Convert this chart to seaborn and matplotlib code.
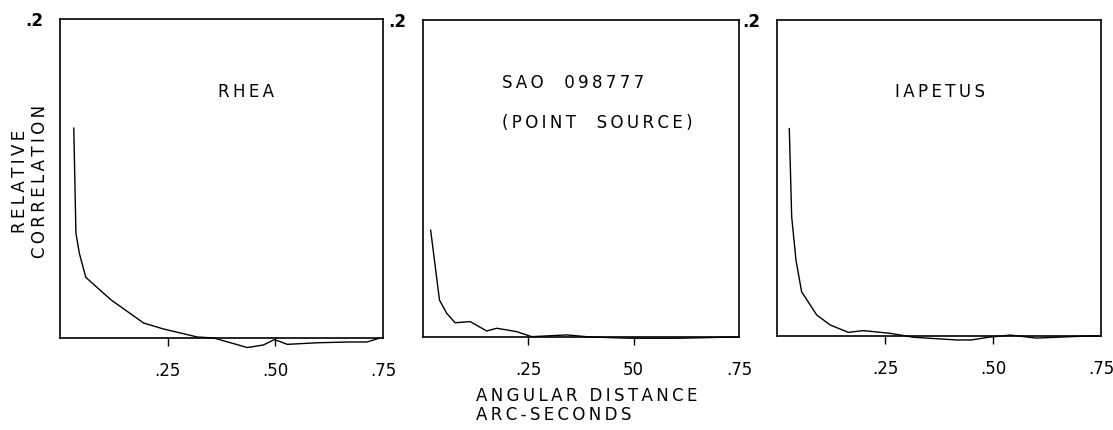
import numpy as np
import pandas as pd
import matplotlib
matplotlib.use("Agg")
import matplotlib.pyplot as plt
import seaborn as sns

# angular distance (arc-seconds) vs relative correlation
rhea_x = [0.032, 0.037, 0.045, 0.060, 0.118, 0.194, 0.241, 0.319, 0.357,
          0.435, 0.472, 0.498, 0.528, 0.597, 0.674, 0.713, 0.743]
rhea_y = [0.1317, 0.0658, 0.053, 0.038, 0.024, 0.0094, 0.0056, 0.0006, 0.0,
          -0.006, -0.0044, -0.001, -0.004, -0.003, -0.0025, -0.0025, 0.0]

sao_x = [0.018, 0.039, 0.056, 0.076, 0.112, 0.151, 0.175, 0.222, 0.258,
         0.341, 0.396, 0.495, 0.600, 0.745]
sao_y = [0.0675, 0.0233, 0.015, 0.009, 0.0097, 0.0038, 0.0055, 0.0034, 0.0002,
         0.0013, 0.0, -0.0008, -0.0008, 0.0]

iap_x = [0.0285, 0.034, 0.044, 0.057, 0.092, 0.123, 0.165, 0.200, 0.262,
         0.316, 0.416, 0.450, 0.489, 0.540, 0.600, 0.720, 0.745]
iap_y = [0.1314, 0.0755, 0.048, 0.028, 0.0133, 0.007, 0.0023, 0.0034, 0.0017,
         -0.0008, -0.0025, -0.0025, -0.0008, 0.0006, -0.0013, 0.0, 0.0]

panel_titles = ["RHEA", "SAO  098777\n(POINT  SOURCE)", "IAPETUS"]
xtick_vals = [0.25, 0.50]
xtick_labels = [[".25", ".50", ".75"], [".25", "50", ".75"], [".25", ".50", ".75"]]


def spaced(s):
    # old typewriter lettering is widely spaced
    return "\n".join("\u2009".join(line) for line in s.split("\n"))


sns.set_theme(style="white")
plt.rcParams["font.family"] = ["DejaVu Sans"]
plt.rcParams["text.color"] = "black"
plt.rcParams["xtick.color"] = "black"
plt.rcParams["ytick.color"] = "black"

fig = plt.figure(figsize=(11.13, 4.30), dpi=100)
boxes = [
    [0.0539, 0.2140, 0.2902, 0.7419],
    [0.3801, 0.2163, 0.2839, 0.7372],
    [0.6981, 0.2186, 0.2911, 0.7349],
]
series = [(rhea_x, rhea_y), (sao_x, sao_y), (iap_x, iap_y)]
title_pos = [(0.576, 0.80, "center"), (0.25, 0.83, "left"), (0.503, 0.80, "center")]

for i, (box, (xs, ys)) in enumerate(zip(boxes, series)):
    ax = fig.add_axes(box)
    df = pd.DataFrame({"dist": xs, "corr": ys})
    sns.lineplot(data=df, x="dist", y="corr", ax=ax, color="black",
                 linewidth=1.0, clip_on=False)
    ax.set_xlim(0, 0.75)
    ax.set_ylim(0, 0.2)
    for s in ax.spines.values():
        s.set_color("black")
        s.set_linewidth(1.2)
    # tick marks only at .25 and .50, labels at all three
    ax.set_xticks(xtick_vals)
    ax.set_xticklabels(xtick_labels[i][:2], fontsize=12)
    ax.set_xticks([0.75], minor=True)
    ax.set_xticklabels([xtick_labels[i][2]], minor=True, fontsize=12)
    ax.tick_params(axis="x", which="major", direction="out", length=6, width=1,
                   pad=11, bottom=True)
    ax.tick_params(axis="x", which="minor", length=0, pad=17, bottom=True)
    ax.set_yticks([0.2])
    ax.set_yticklabels([".2"], fontsize=12, fontweight="bold")
    ax.tick_params(axis="y", length=0, pad=12, left=True)
    ax.set_xlabel("")
    ax.set_ylabel("")
    tx, ty, ha = title_pos[i]
    ax.text(tx, ty, spaced(panel_titles[i]), transform=ax.transAxes, ha=ha,
            va="top", fontsize=12, linespacing=2.6)

fig.text(0.027, 0.577, spaced("RELATIVE\nCORRELATION"), rotation=90,
         ha="center", va="center", fontsize=12, linespacing=1.1)
fig.text(0.428, 0.057, spaced("ANGULAR DISTANCE\nARC-SECONDS"), ha="left",
         va="center", fontsize=12, linespacing=1.05)

fig.savefig("out.png", dpi=100)
